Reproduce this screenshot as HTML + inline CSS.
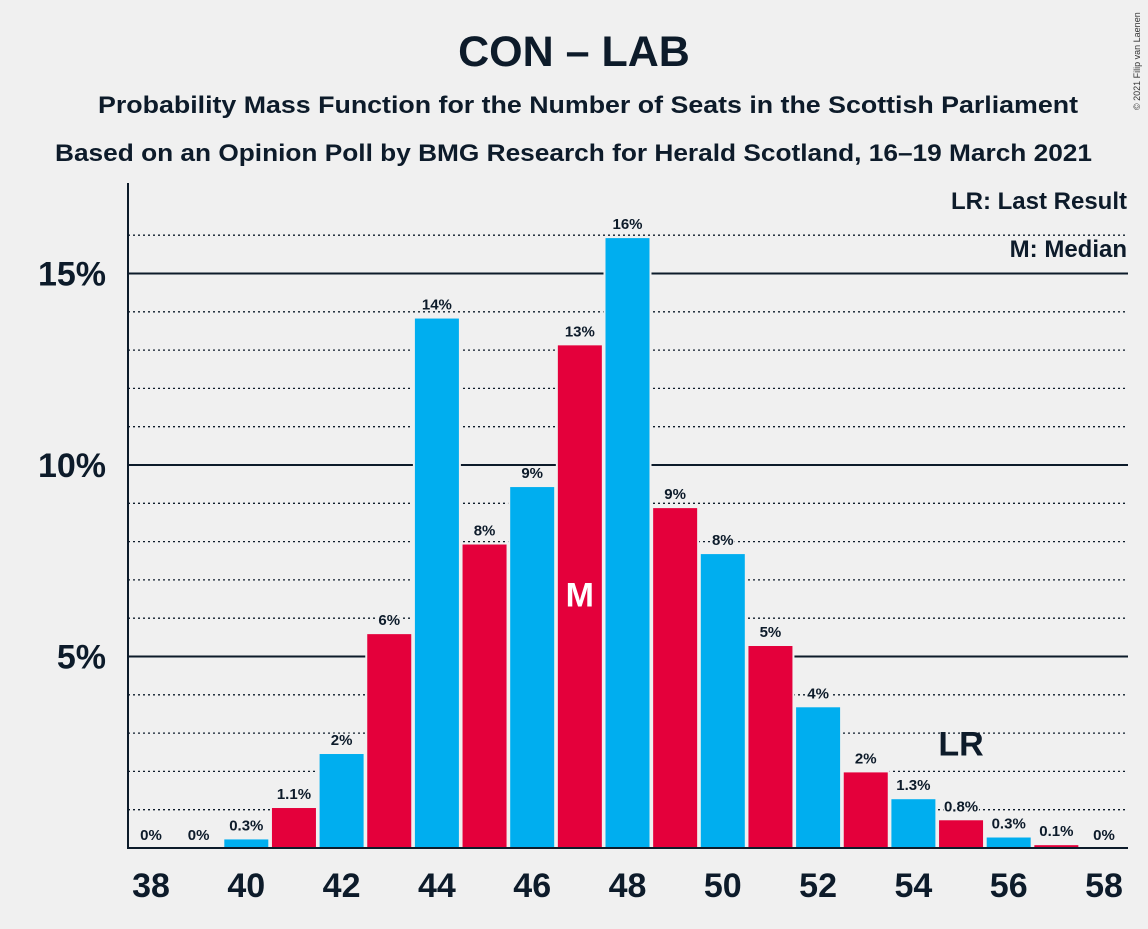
<!DOCTYPE html>
<html><head><meta charset="utf-8"><style>
body{margin:0;background:#f0f0f0;font-family:"Liberation Sans",sans-serif;}
svg text{font-family:"Liberation Sans",sans-serif;}
</style></head><body>
<svg id="c" width="1148" height="924">
<rect width="1148" height="924" fill="#f0f0f0"/>
<text x="574" y="66" text-anchor="middle" font-size="43" font-weight="bold" fill="#0d1b2a">CON – LAB</text>
<text x="98" y="113" textLength="980" lengthAdjust="spacingAndGlyphs" font-size="24" font-weight="bold" fill="#0d1b2a">Probability Mass Function for the Number of Seats in the Scottish Parliament</text>
<text x="55" y="161" textLength="1037" lengthAdjust="spacingAndGlyphs" font-size="24" font-weight="bold" fill="#0d1b2a">Based on an Opinion Poll by BMG Research for Herald Scotland, 16–19 March 2021</text>
<text x="1140" y="110" font-size="9" fill="#333" transform="rotate(-90 1140 110)">© 2021 Filip van Laenen</text>
<g id="grid"></g>
<g id="bars"></g>
<line x1="128" y1="183" x2="128" y2="849" stroke="#0d1b2a" stroke-width="2"/>
<line x1="127" y1="848" x2="1128" y2="848" stroke="#0d1b2a" stroke-width="2"/>
<text x="1127" y="209" text-anchor="end" font-size="24" font-weight="bold" fill="#0d1b2a">LR: Last Result</text>
<text x="1127" y="257" text-anchor="end" font-size="24" font-weight="bold" fill="#0d1b2a">M: Median</text>
</svg>
<script>
const seats=[38,39,40,41,42,43,44,45,46,47,48,49,50,51,52,53,54,55,56,57,58];
const probs=[0,0,0.25,1.07,2.48,5.61,13.85,7.95,9.45,13.15,15.95,8.9,7.7,5.3,3.7,2.0,1.3,0.75,0.3,0.1,0];
const labels=["0%","0%","0.3%","1.1%","2%","6%","14%","8%","9%","13%","16%","9%","8%","5%","4%","2%","1.3%","0.8%","0.3%","0.1%","0%"];
const yTicks=[5,10,15];
const yTickLabels=["5%","10%","15%"];
const xTicks=[38,40,42,44,46,48,50,52,54,56,58];
const medianSeat=47, lastResultSeat=55;
const NS="http://www.w3.org/2000/svg";
const y=v=>848-v*38.3;
const x=s=>151+(s-38)*47.65;
const svg=document.getElementById('c'),grid=document.getElementById('grid'),bars=document.getElementById('bars');
function mk(t,a,p){const e=document.createElementNS(NS,t);for(const k in a)e.setAttribute(k,a[k]);(p||svg).appendChild(e);return e;}
for(let v=1;v<=16;v++){if(v%5===0)continue;const l=mk('line',{x1:128,x2:1128,y1:y(v),y2:y(v),stroke:'#0d1b2a','stroke-width':1.3,'stroke-dasharray':'2,3'},grid);

}
yTicks.forEach((v,i)=>{const l=mk('line',{x1:128,x2:1128,y1:y(v),y2:y(v),stroke:'#0d1b2a','stroke-width':2},grid);


const t=mk('text',{x:106,y:y(v)+12,'text-anchor':'end','font-size':34,'font-weight':'bold',fill:'#0d1b2a'});t.textContent=yTickLabels[i];

});
xTicks.forEach(s=>{const t=mk('text',{x:x(s),y:897,'text-anchor':'middle','font-size':34,'font-weight':'bold',fill:'#0d1b2a'});t.textContent=s;

});
seats.forEach((s,i)=>{const v=probs[i];
if(v>0){const r=mk('rect',{x:x(s)-23,y:y(v),width:46,height:848-y(v),fill:s%2===0?'#00aeef':'#e4003b',stroke:'#f0f0f0','stroke-width':2},bars);

}
const t=mk('text',{x:x(s),y:y(v)-8,'text-anchor':'middle','font-size':15,'font-weight':'bold',fill:'#0d1b2a',stroke:'#f0f0f0','stroke-width':3,'paint-order':'stroke'});t.textContent=labels[i];


if(s===medianSeat){const m=mk('text',{x:x(s),y:y(6.3),'text-anchor':'middle','font-size':34,'font-weight':'bold',fill:'#fff'});m.textContent='M';

}
if(s===lastResultSeat){const m=mk('text',{x:x(s),y:y(v)-64,'text-anchor':'middle','font-size':34,'font-weight':'bold',fill:'#0d1b2a'});m.textContent='LR';

}
});
</script>
</body></html>
